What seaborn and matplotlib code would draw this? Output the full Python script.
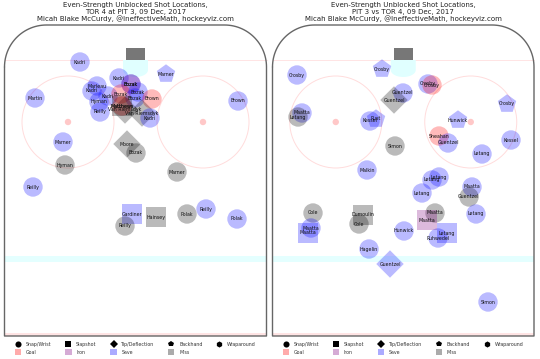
import numpy as np
import pandas as pd
import matplotlib.pyplot as plt
import seaborn as sns
from matplotlib.lines import Line2D
from matplotlib.patches import Circle, Rectangle, Patch

sns.set_style('white')
plt.rcParams['font.family'] = ['DejaVu Sans']

# values, in image units (x right, y down)
tor_names = ['Kadri', 'Marner', 'Kadri', 'Bozak', 'Bozak', 'Marleau', 'Kadri', 'Kadri', 'Bozak', 'Bozak',
             'Bozak', 'Brown', 'Hyman', 'Reilly', 'Martin', 'Van Riemsdyk', 'Matthews', 'Matthews',
             'Van Riemsdyk', 'Kadri', 'Brown', 'Marner', 'Moore', 'Bozak', 'Hyman', 'Marner', 'Reilly',
             'Gardiner', 'Reilly', 'Hainsey', 'Polak', 'Reilly', 'Polak']
tor_x = [80, 166, 119, 131, 131, 97, 92, 108, 121, 138, 135, 152, 99, 100, 35, 125, 122, 122,
         142, 150, 238, 63, 127, 136, 65, 177, 33, 132, 125, 156, 187, 206, 237]
tor_y = [62, 74, 78, 84, 84, 86, 91, 96, 94, 92, 98, 99, 102, 112, 98, 110, 106, 106,
         113, 118, 101, 142, 144, 153, 165, 172, 187, 214, 226, 217, 214, 209, 219]
tor_shot = ['Snap/Wrist', 'Backhand', 'Snap/Wrist', 'Snap/Wrist', 'Snap/Wrist', 'Snap/Wrist', 'Snap/Wrist',
            'Snap/Wrist', 'Snap/Wrist', 'Snap/Wrist', 'Snap/Wrist', 'Snap/Wrist', 'Snap/Wrist', 'Snap/Wrist',
            'Snap/Wrist', 'Tip/Deflection', 'Snap/Wrist', 'Slapshot', 'Tip/Deflection', 'Snap/Wrist',
            'Snap/Wrist', 'Snap/Wrist', 'Tip/Deflection', 'Snap/Wrist', 'Snap/Wrist', 'Snap/Wrist',
            'Snap/Wrist', 'Slapshot', 'Snap/Wrist', 'Slapshot', 'Snap/Wrist', 'Snap/Wrist', 'Snap/Wrist']
tor_result = ['Save', 'Save', 'Save', 'Save', 'Iron', 'Save', 'Save', 'Save', 'Goal', 'Save', 'Save', 'Goal',
              'Save', 'Save', 'Save', 'Miss', 'Goal', 'Miss', 'Miss', 'Save', 'Save', 'Save', 'Miss', 'Miss',
              'Miss', 'Miss', 'Save', 'Save', 'Miss', 'Miss', 'Miss', 'Save', 'Save']

pit_names = ['Crosby', 'Crosby', 'Crosby', 'Crosby', 'Guentzel', 'Guentzel', 'Crosby', 'Maatta', 'Letang',
             'Kessel', 'Rust', 'Hunwick', 'Sheahan', 'Guentzel', 'Kessel', 'Simon', 'Letang', 'Malkin',
             'Letang', 'Letang', 'Maatta', 'Guentzel', 'Letang', 'Letang', 'Cole', 'Dumoulin', 'Cole',
             'Maatta', 'Maatta', 'Maatta', 'Maatta', 'Hunwick', 'Letang', 'Ruhwedel', 'Hagelin', 'Guentzel',
             'Simon']
pit_x = [297, 382, 428, 432, 403, 394, 507, 302, 298, 370, 376, 458, 439, 448, 511, 395, 482, 367,
         439, 432, 472, 469, 422, 476, 313, 363, 359, 435, 427, 311, 308, 404, 447, 438, 369, 390, 488]
pit_y = [75, 69, 84, 85, 93, 100, 104, 113, 117, 121, 119, 120, 136, 143, 140, 146, 154, 170,
         177, 180, 187, 197, 193, 214, 213, 215, 224, 213, 220, 228, 233, 231, 233, 238, 249, 264, 302]
pit_shot = ['Snap/Wrist', 'Backhand', 'Snap/Wrist', 'Snap/Wrist', 'Snap/Wrist', 'Tip/Deflection', 'Backhand',
            'Snap/Wrist', 'Snap/Wrist', 'Snap/Wrist', 'Backhand', 'Backhand', 'Snap/Wrist', 'Snap/Wrist',
            'Snap/Wrist', 'Snap/Wrist', 'Snap/Wrist', 'Snap/Wrist', 'Snap/Wrist', 'Snap/Wrist', 'Snap/Wrist',
            'Snap/Wrist', 'Snap/Wrist', 'Snap/Wrist', 'Snap/Wrist', 'Slapshot', 'Snap/Wrist', 'Snap/Wrist',
            'Slapshot', 'Snap/Wrist', 'Slapshot', 'Snap/Wrist', 'Slapshot', 'Snap/Wrist', 'Snap/Wrist',
            'Tip/Deflection', 'Snap/Wrist']
pit_result = ['Save', 'Save', 'Save', 'Goal', 'Save', 'Miss', 'Save', 'Save', 'Miss', 'Save', 'Save', 'Save',
              'Goal', 'Save', 'Save', 'Miss', 'Save', 'Save', 'Save', 'Save', 'Save', 'Miss', 'Save', 'Save',
              'Miss', 'Miss', 'Miss', 'Miss', 'Iron', 'Save', 'Save', 'Save', 'Save', 'Save', 'Save', 'Save',
              'Save']

tor_title = 'Even-Strength Unblocked Shot Locations,\nTOR 4 at PIT 3, 09 Dec, 2017\nMicah Blake McCurdy, @IneffectiveMath, hockeyviz.com'
pit_title = 'Even-Strength Unblocked Shot Locations,\nPIT 3 vs TOR 4, 09 Dec, 2017\nMicah Blake McCurdy, @IneffectiveMath, hockeyviz.com'

shot_markers = {'Snap/Wrist': 'o', 'Slapshot': 's', 'Tip/Deflection': 'D', 'Backhand': 'p', 'Wraparound': 'h'}
result_colors = {'Goal': '#ff0000', 'Iron': '#800080', 'Save': '#0000ff', 'Miss': '#000000'}


def draw_rink(ax, left, right):
    mid = (left + right) / 2
    top, bottom, r = 25, 336, 42
    pink = '#ffe4e4'
    # ice markings
    ax.add_patch(Rectangle((left, 256), right - left, 6, color='#e4ffff', lw=0, zorder=1))
    ax.add_patch(Rectangle((left, 333), right - left, 3, color=pink, lw=0, zorder=1))
    ax.plot([left, right], [60, 60], color=pink, lw=0.7, zorder=1)
    # crease
    t = np.linspace(0, np.pi, 40)
    ax.fill(np.r_[mid - 12.5, mid - 12.5 * np.cos(t), mid + 12.5],
           np.r_[60, 70 + 7 * np.sin(t), 60], color='#e0ffff', lw=0, zorder=1)
    ax.add_patch(Rectangle((mid - 9.5, 48), 19, 12, color='#777777', lw=0, zorder=2))
    # faceoff circles
    for cx in (mid - 67.5, mid + 67.5):
        ax.add_patch(Circle((cx, 122), 46, fill=False, ec='#ffdcdc', lw=0.7, zorder=1))
        ax.add_patch(Circle((cx, 122), 3.2, fc='#ffc8c8', lw=0, zorder=1))
    # boards
    a = np.linspace(np.pi, np.pi / 2, 30)
    bx = np.r_[left, left + r + r * np.cos(a), right - r - r * np.cos(a[::-1]), right, left, left]
    by = np.r_[top + r, top + r - r * np.sin(a), top + r - r * np.sin(a[::-1]), bottom, bottom, top + r]
    ax.plot(bx, by, color='#666666', lw=1.0, zorder=2, solid_joinstyle='round')


def draw_panel(ax, names, x, y, shot, result, title, x0, left, right):
    df = pd.DataFrame({'x': x, 'y': y, 'shot': shot, 'result': result, 'name': names})
    draw_rink(ax, left, right)
    sns.scatterplot(data=df, x='x', y='y', hue='result', style='shot', palette=result_colors,
                    markers=shot_markers, s=195, alpha=0.27, linewidth=0, legend=False, ax=ax, zorder=3)
    for _, row in df.iterrows():
        ax.text(row['x'], row['y'], row['name'], fontsize=3.4, ha='center', va='center',
                color='#111111', zorder=4)
    ax.set_xlim(x0, x0 + 270)
    ax.set_ylim(359, 0)
    ax.axis('off')
    ax.text((left + right) / 2, 12, title, fontsize=5.0, ha='center', va='center',
            color='#222222', linespacing=1.05)

    handles = [Line2D([], [], color='k', marker=shot_markers[k], ls='none', ms=4.4, label=k, mew=0)
               for k in shot_markers]
    patches = [Patch(fc=result_colors[k], alpha=0.33, lw=0, label=k) for k in result_colors]
    mixed = []
    for i, h in enumerate(handles):
        mixed.append(h)
        if i < len(patches):
            mixed.append(patches[i])
    ax.legend(handles=mixed, ncol=5, frameon=False, fontsize=3.4, loc='upper center',
              bbox_to_anchor=(((left + right) / 2 - x0) / 270, 1 - 339 / 359), handlelength=1.3,
              handleheight=1.4, handletextpad=1.0, columnspacing=2.9, labelspacing=0.55,
              borderpad=0, labelcolor='#333333')


fig = plt.figure(figsize=(5.4, 3.59), dpi=100)
ax1 = fig.add_axes([0, 0, 0.5, 1])
ax2 = fig.add_axes([0.5, 0, 0.5, 1])
draw_panel(ax1, tor_names, tor_x, tor_y, tor_shot, tor_result, tor_title, 0, 4.5, 266.5)
draw_panel(ax2, pit_names, pit_x, pit_y, pit_shot, pit_result, pit_title, 270, 272.5, 534)

plt.savefig('out.png', dpi=100)
